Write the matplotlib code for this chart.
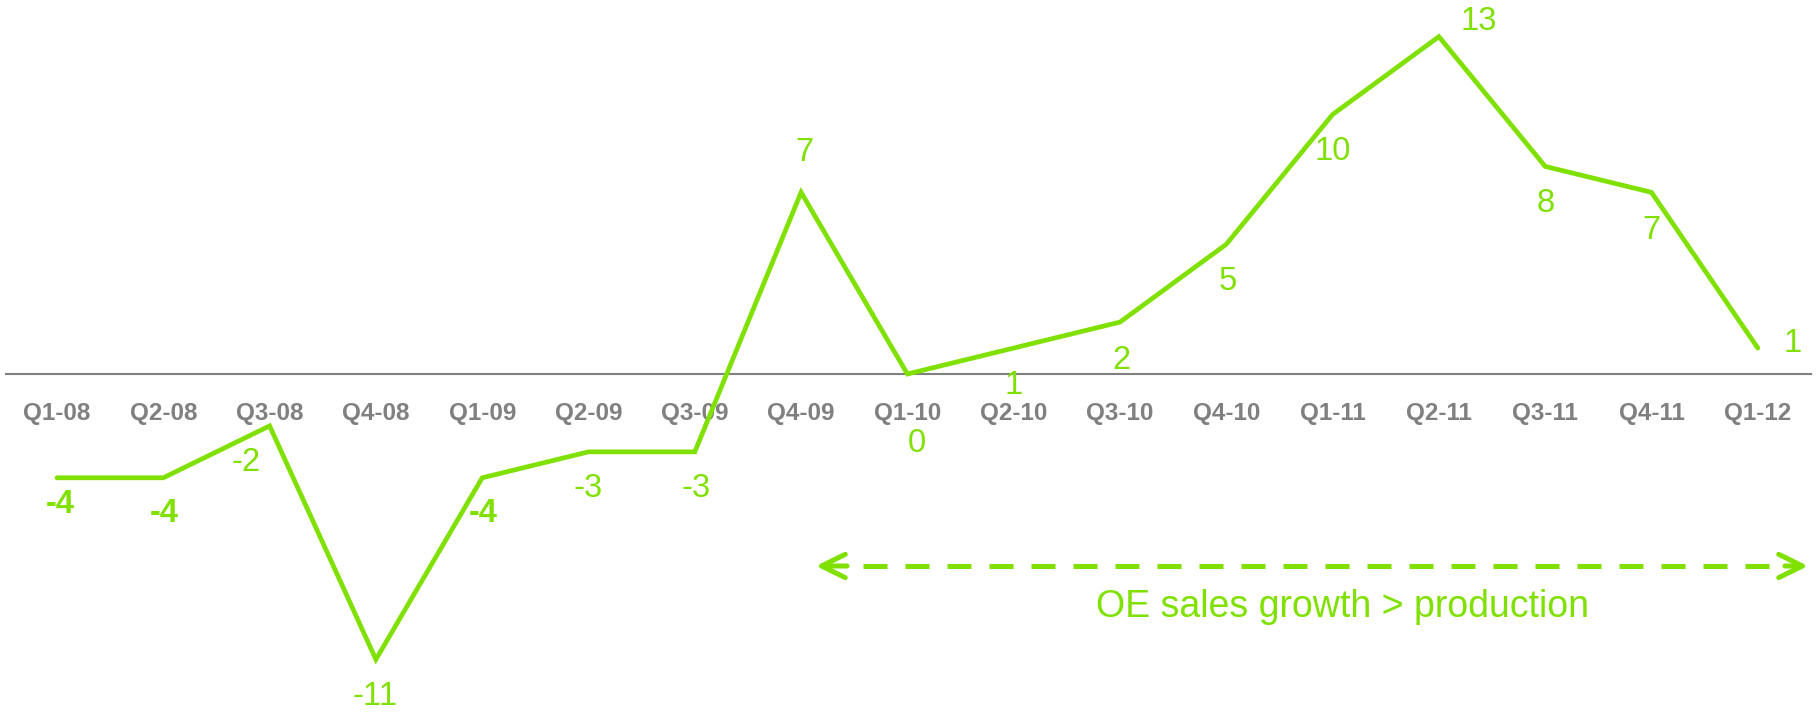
import matplotlib
matplotlib.use("Agg")
import matplotlib.pyplot as plt

# ---- data ----
quarters = ["Q1-08", "Q2-08", "Q3-08", "Q4-08", "Q1-09", "Q2-09", "Q3-09", "Q4-09",
            "Q1-10", "Q2-10", "Q3-10", "Q4-10", "Q1-11", "Q2-11", "Q3-11", "Q4-11", "Q1-12"]
growth = [-4, -4, -2, -11, -4, -3, -3, 7, 0, 1, 2, 5, 10, 13, 8, 7, 1]
annotation_text = "OE sales growth > production"

# ---- styling / layout (pixel offsets for value labels) ----
label_offsets = [(3, 27), (1, 36), (-24, 37), (-1, 37), (1, 36), (0, 37), (1, 37), (3, -40),
                 (9, 69), (0, 37), (1, 38), (1, 37), (0, 37), (40, -15), (0, 37), (0, 38), (35, -5)]
bold_labels = [True, True, False, False, True, False, False, False,
               False, False, False, False, False, False, False, False, False]

GREEN = "#80E000"
GRAY = "#808080"
W, H, DPI = 1820, 712, 100

X0_PX, DX_PX = 57.0, 106.3
Y0_PX, DY_PX = 374.0, 25.95

def px_to_x(px):
    return (px - X0_PX) / DX_PX

def py_to_y(py):
    return (Y0_PX - py) / DY_PX

plt.rcParams["font.family"] = ["Liberation Sans", "DejaVu Sans"]
plt.rcParams["lines.scale_dashes"] = False

fig = plt.figure(figsize=(W / DPI, H / DPI), dpi=DPI)
left_px, right_px = 6, 1811
ax = fig.add_axes([left_px / W, 0, (right_px - left_px) / W, 1])
ax.set_xlim(px_to_x(left_px), px_to_x(right_px))
ax.set_ylim(py_to_y(H), py_to_y(0))

x = list(range(len(quarters)))
ax.plot(x, growth, color=GREEN, lw=3.4, solid_capstyle="round",
        solid_joinstyle="miter", zorder=3)

for xi, v, (dx, dy), b in zip(x, growth, label_offsets, bold_labels):
    ax.annotate(f"{v}", xy=(xi, v), xytext=(dx, -dy), textcoords="offset pixels",
                ha="center", va="center", fontsize=23.5, color=GREEN,
                fontweight="bold" if b else "normal")

for s in ["top", "right", "left"]:
    ax.spines[s].set_visible(False)
ax.spines["bottom"].set_position(("data", 0))
ax.spines["bottom"].set_color(GRAY)
ax.spines["bottom"].set_linewidth(1.5)
ax.set_yticks([])
ax.set_xticks(x)
ax.set_xticklabels(quarters, fontsize=17.5, fontweight="bold", color=GRAY)
ax.tick_params(axis="x", length=0, pad=20)
ax.patch.set_alpha(0)

# dashed double-headed arrow
y_arr = py_to_y(566)
ax.plot([px_to_x(863), px_to_x(1769)], [y_arr, y_arr], color=GREEN, lw=3.6,
        linestyle=(0, (24 * 0.72, 18 * 0.72)), dash_capstyle="butt")
for tip, tail in [(816, 847), (1808, 1785)]:
    ax.annotate("", xy=(px_to_x(tip), y_arr), xytext=(px_to_x(tail), y_arr),
                arrowprops=dict(arrowstyle="->,head_length=0.85,head_width=0.42",
                                mutation_scale=20, lw=3.6, color=GREEN,
                                shrinkA=0, shrinkB=0, capstyle="round",
                                joinstyle="round"))

ax.text(px_to_x(1343), py_to_y(616.7), annotation_text, ha="center", va="baseline",
        fontsize=27, color=GREEN)

fig.savefig("out.png", dpi=DPI)
